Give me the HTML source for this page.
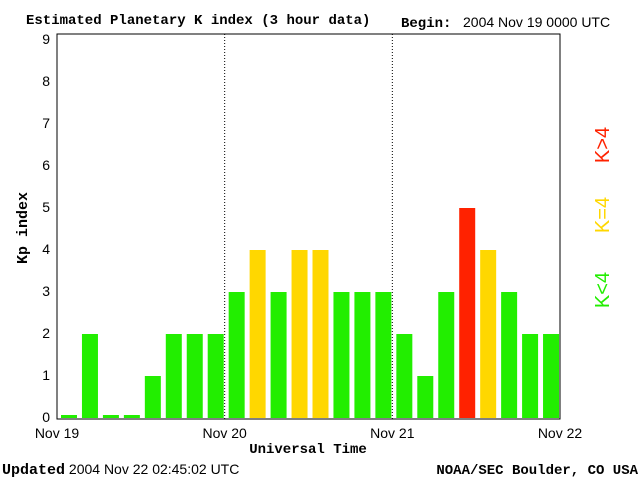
<!DOCTYPE html>
<html><head><meta charset="utf-8"><style>
body{margin:0;background:#fff;width:640px;height:480px;overflow:hidden}
svg{display:block}
text{font-family:"Liberation Sans",sans-serif;font-size:14px;fill:#000}
.serif{font-family:"Liberation Mono",monospace;font-weight:bold}
.leg{font-size:20px}
</style></head><body>
<svg id="chart" width="640" height="480" viewBox="0 0 640 480">
<text class="serif" x="26" y="24">Estimated Planetary K index (3 hour data)</text>
<text class="serif" x="401" y="27">Begin:</text>
<text x="463" y="27">2004 Nov 19 0000 UTC</text>
<rect x="57" y="34" width="503" height="385" fill="none" stroke="#000"/>
<g id="yticks"></g>
<g id="days"></g>
<g id="bars"></g>
<text class="serif" x="0" y="0" transform="translate(27,228) rotate(-90)" text-anchor="middle" style="font-size:15px">Kp index</text>
<text class="serif" x="308" y="453" text-anchor="middle">Universal Time</text>
<text class="leg" x="0" y="0" transform="translate(609,290) rotate(-90)" text-anchor="middle" style="fill:#22ee00">K&lt;4</text>
<text class="leg" x="0" y="0" transform="translate(609,215) rotate(-90)" text-anchor="middle" style="fill:#ffd700">K=4</text>
<text class="leg" x="0" y="0" transform="translate(609,145) rotate(-90)" text-anchor="middle" style="fill:#ff2200">K&gt;4</text>
<text x="2" y="474"><tspan class="serif" style="font-size:15px">Updated</tspan> 2004 Nov 22 02:45:02 UTC</text>
<text class="serif" x="638" y="474" text-anchor="end">NOAA/SEC Boulder, CO USA</text>
</svg>
<script>
const kpValues=[0,2,0,0,1,2,2,2,3,4,3,4,4,3,3,3,2,1,3,5,4,3,2,2];
const dayLabels=["Nov 19","Nov 20","Nov 21","Nov 22"];
const yTicks=[0,1,2,3,4,5,6,7,8,9];
const NS="http://www.w3.org/2000/svg";
const x0=57,x1=560,yB=418,yT=40;
const xs=i=>x0+(x1-x0)*i/kpValues.length;
const ys=v=>yB-(yB-yT)*v/9;
function mk(tag,attrs,parent){const e=document.createElementNS(NS,tag);for(const k in attrs)e.setAttribute(k,attrs[k]);parent.appendChild(e);return e;}
const gy=document.getElementById('yticks');
yTicks.forEach(t=>{const e=mk('text',{x:50,y:ys(t)+4,'text-anchor':'end'},gy);e.textContent=t;

});
const gd=document.getElementById('days');
dayLabels.forEach((d,i)=>{const x=xs(i*8);const e=mk('text',{x:x,y:438,'text-anchor':'middle'},gd);e.textContent=d;


if(i>0&&i<dayLabels.length-1){const l=mk('line',{x1:x,x2:x,y1:34,y2:419,stroke:'#000','stroke-dasharray':'1,2'},gd);

}});
const gb=document.getElementById('bars');
kpValues.forEach((v,i)=>{const col=v<4?'#22ee00':v===4?'#ffd700':'#ff2200';
const top=v===0?yB-3:ys(v);
const r=mk('rect',{x:xs(i)+4,y:top,width:16,height:yB-top,fill:col},gb);

});
</script>
</body></html>
